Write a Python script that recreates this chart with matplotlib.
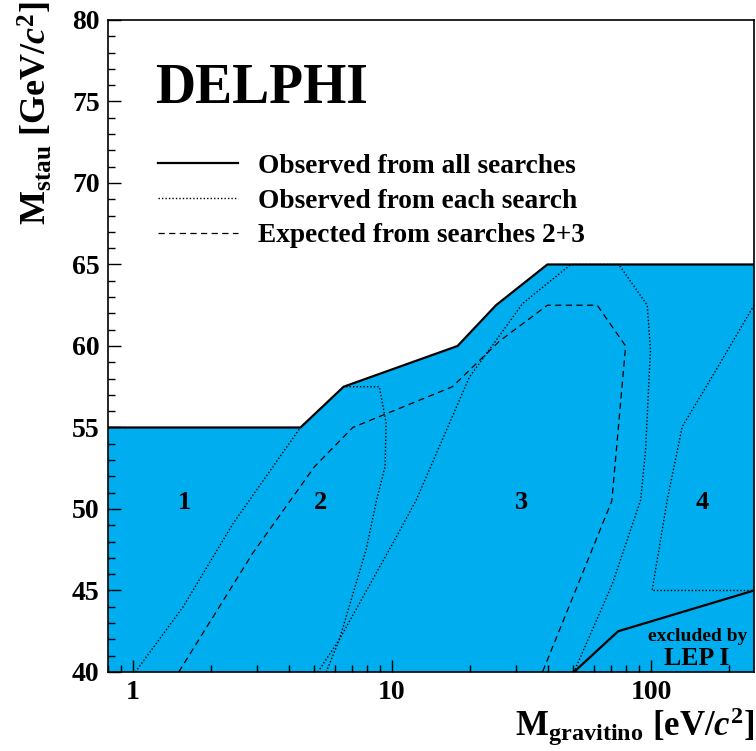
import matplotlib
matplotlib.use("Agg")
import matplotlib.pyplot as plt
from matplotlib.lines import Line2D
from matplotlib.ticker import LogLocator, FixedLocator, NullFormatter, FixedFormatter
import numpy as np

# ── Fonts: bold Times-like everywhere ─────────────────────────────────────────
plt.rcParams["font.family"] = ["Liberation Serif", "DejaVu Serif"]
plt.rcParams["font.weight"] = "bold"
plt.rcParams["mathtext.fontset"] = "custom"
plt.rcParams["mathtext.rm"] = "Liberation Serif:bold"
plt.rcParams["mathtext.it"] = "Liberation Serif:bold:italic"
plt.rcParams["mathtext.bf"] = "Liberation Serif:bold"

FILL = "#00AEEF"

# ── Data ──────────────────────────────────────────────────────────────────────
# observed from all searches (upper boundary of the excluded region)
all_x = [0.8, 4.43, 6.5, 17.9, 25.2, 39.8, 250]
all_y = [55, 55, 57.5, 60, 62.5, 65, 65]
# LEP I boundary (lower right corner)
lep_x = [50.4, 74.7, 250]
lep_y = [40, 42.5, 45]

# expected from searches 2+3
exp_x = [1.50, 2.9, 5.02, 7.05, 17.1, 26.0, 39.8, 62.0, 79.8, 70.6, 38.1]
exp_y = [40, 47.3, 52.6, 55, 57.5, 60.3, 62.5, 62.5, 60, 50.5, 40]

# observed from each search
s1_x = [1.02, 1.56, 2.43, 4.43]
s1_y = [40, 44, 49.1, 55]
s2_x = [5.57, 6.26, 7.94, 8.7, 9.4, 9.48, 8.93, 6.5]
s2_y = [40, 42, 47.5, 50.5, 52.6, 55.3, 57.5, 57.5]
s3_x = [5.17, 6.26, 10.4, 12.4, 19.9, 23.7, 31.9, 49, 75.1, 96.7, 99.5, 95.3, 91.2, 70.9, 50.4]
s3_y = [40, 42, 48.3, 50.55, 58.1, 59.75, 62.6, 65, 65, 62.5, 59.75, 53.6, 50.55, 45.4, 40]
s4_x = [250, 172, 132, 115.5, 101, 250]
s4_y = [62.5, 58.1, 55.05, 50.55, 45, 45]

region_names = ["1", "2", "3", "4"]
region_x = [1.58, 5.28, 31.5, 158]
region_y = [50.4, 50.4, 50.4, 50.4]

# ── Plot ──────────────────────────────────────────────────────────────────────
fig = plt.figure(figsize=(7.56, 7.51), dpi=100)
ax = fig.add_axes([0.1429, 0.1052, 0.8545, 0.8682])

# excluded region (LEP I corner is filled too)
poly_x = all_x + [all_x[-1], all_x[0]]
poly_y = all_y + [40, 40]
ax.fill(poly_x, poly_y, color=FILL, lw=0, zorder=1)

dot = dict(color="black", lw=1.0, ls=(0, (1, 1.5)), zorder=2)
for xs, ys in [(s1_x, s1_y), (s2_x, s2_y), (s3_x, s3_y), (s4_x, s4_y)]:
    ax.plot(xs, ys, **dot)
ax.plot(exp_x, exp_y, color="black", lw=0.9, ls=(0, (5, 3.5)), zorder=3)
ax.plot(all_x, all_y, color="black", lw=1.6, zorder=4)
ax.plot(lep_x, lep_y, color="black", lw=1.6, zorder=4)

for name, x, y in zip(region_names, region_x, region_y):
    ax.text(x, y, name, fontsize=19, fontweight="bold", ha="center", va="center", zorder=5)

ax.set_xscale("log")
ax.set_xlim(0.8, 250)
ax.set_ylim(40, 80)

# text annotations in axes coordinates
ax.text(0.912, 0.048, "excluded by", fontsize=14, fontweight="bold", ha="center",
        va="baseline", transform=ax.transAxes, zorder=5)
ax.text(0.912, 0.011, "LEP I", fontsize=18.5, fontweight="bold", ha="center",
        va="baseline", transform=ax.transAxes, zorder=5)
ax.text(0.0728, 0.873, "DELPHI", fontsize=40, fontweight="bold",
        ha="left", va="baseline", transform=ax.transAxes)

handles = [
    Line2D([], [], color="black", lw=1.6),
    Line2D([], [], color="black", lw=1.0, ls=(0, (1, 1.5))),
    Line2D([], [], color="black", lw=0.9, ls=(0, (5, 3.5))),
]
labels = ["Observed from all searches", "Observed from each search",
          "Expected from searches 2+3"]
ax.legend(handles, labels, loc="upper left", bbox_to_anchor=(0.0774, 0.795),
          frameon=False, fontsize=19.7, handlelength=2.92, handletextpad=0.73,
          labelspacing=0.35, borderpad=0, borderaxespad=0)

# ticks
ax.yaxis.set_major_locator(FixedLocator(np.arange(40, 81, 5)))
ax.yaxis.set_minor_locator(FixedLocator(np.arange(40, 81, 1)))
ax.xaxis.set_major_locator(FixedLocator([1, 10, 100]))
ax.xaxis.set_major_formatter(FixedFormatter(["1", "10", "100"]))
ax.xaxis.set_minor_locator(LogLocator(base=10, subs=np.arange(2, 10)))
ax.xaxis.set_minor_formatter(NullFormatter())
ax.tick_params(which="both", direction="in", top=False, right=False, width=1.0)
ax.tick_params(which="major", length=9, labelsize=20, pad=6)
ax.tick_params(which="minor", length=5)
for lab in ax.get_xticklabels() + ax.get_yticklabels():
    lab.set_fontweight("bold")
for sp in ax.spines.values():
    sp.set_linewidth(1.2)

fig.text(0.999, 0.004, r"M$_{\rm gravitino}$ [eV/$c^{\rm 2}$]", fontsize=25,
         ha="right", va="bottom")
fig.text(0.022, 0.998, r"M$_{\rm stau}$ [GeV/$c^{\rm 2}$]", fontsize=26,
         ha="left", va="top", rotation=90)

fig.savefig("out.png", dpi=100)
